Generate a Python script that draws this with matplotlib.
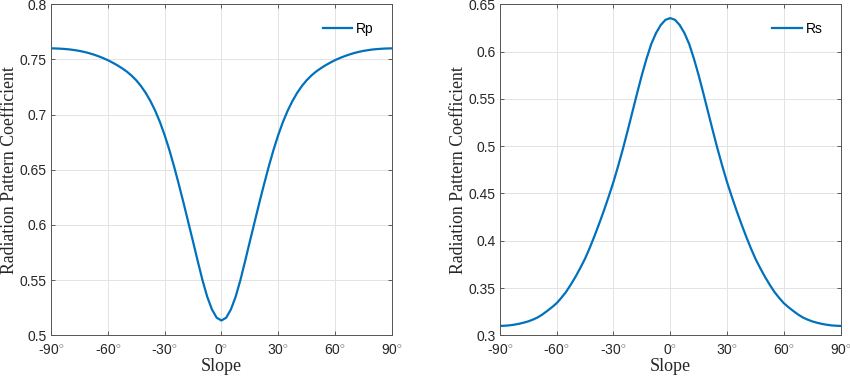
import numpy as np
import matplotlib
matplotlib.use("Agg")
import matplotlib.pyplot as plt

# slope angles (deg), every 2.5 degrees from -90 to 90
slope = [-90.0, -87.5, -85.0, -82.5, -80.0, -77.5, -75.0, -72.5, -70.0,
         -67.5, -65.0, -62.5, -60.0, -57.5, -55.0, -52.5, -50.0, -47.5,
         -45.0, -42.5, -40.0, -37.5, -35.0, -32.5, -30.0, -27.5, -25.0,
         -22.5, -20.0, -17.5, -15.0, -12.5, -10.0, -7.5, -5.0, -2.5,
         0.0,
         2.5, 5.0, 7.5, 10.0, 12.5, 15.0, 17.5, 20.0, 22.5,
         25.0, 27.5, 30.0, 32.5, 35.0, 37.5, 40.0, 42.5, 45.0,
         47.5, 50.0, 52.5, 55.0, 57.5, 60.0, 62.5, 65.0, 67.5,
         70.0, 72.5, 75.0, 77.5, 80.0, 82.5, 85.0, 87.5, 90.0]

# values
rp = [0.7600, 0.7599, 0.7597, 0.7594, 0.7590, 0.7584, 0.7577, 0.7568, 0.7557,
      0.7544, 0.7529, 0.7512, 0.7493, 0.7471, 0.7447, 0.7420, 0.7390, 0.7354,
      0.7311, 0.7259, 0.7197, 0.7123, 0.7036, 0.6934, 0.6815, 0.6680, 0.6530,
      0.6368, 0.6200, 0.6025, 0.5850, 0.5672, 0.5500, 0.5350, 0.5235, 0.5160,
      0.5135,
      0.5160, 0.5235, 0.5350, 0.5500, 0.5672, 0.5850, 0.6025, 0.6200, 0.6368,
      0.6530, 0.6680, 0.6815, 0.6934, 0.7036, 0.7123, 0.7197, 0.7259, 0.7311,
      0.7354, 0.7390, 0.7420, 0.7447, 0.7471, 0.7493, 0.7512, 0.7529, 0.7544,
      0.7557, 0.7568, 0.7577, 0.7584, 0.7590, 0.7594, 0.7597, 0.7599, 0.7600]

rs = [0.3100, 0.3102, 0.3106, 0.3113, 0.3122, 0.3134, 0.3148, 0.3167, 0.3190,
      0.3221, 0.3258, 0.3297, 0.3340, 0.3397, 0.3460, 0.3537, 0.3620, 0.3712,
      0.3810, 0.3925, 0.4050, 0.4182, 0.4320, 0.4467, 0.4620, 0.4790, 0.4970,
      0.5162, 0.5360, 0.5558, 0.5750, 0.5925, 0.6080, 0.6195, 0.6280, 0.6335,
      0.6353,
      0.6335, 0.6280, 0.6195, 0.6080, 0.5925, 0.5750, 0.5558, 0.5360, 0.5162,
      0.4970, 0.4790, 0.4620, 0.4467, 0.4320, 0.4182, 0.4050, 0.3925, 0.3810,
      0.3712, 0.3620, 0.3537, 0.3460, 0.3397, 0.3340, 0.3297, 0.3258, 0.3221,
      0.3190, 0.3167, 0.3148, 0.3134, 0.3122, 0.3113, 0.3106, 0.3102, 0.3100]

xticks = [-90, -60, -30, 0, 30, 60, 90]
xticklabels = ['-90$^{\\circ}$', '-60$^{\\circ}$', '-30$^{\\circ}$', '0$^{\\circ}$',
               '30$^{\\circ}$', '60$^{\\circ}$', '90$^{\\circ}$']
rp_yticks = [0.5, 0.55, 0.6, 0.65, 0.7, 0.75, 0.8]
rp_yticklabels = ['0.5', '0.55', '0.6', '0.65', '0.7', '0.75', '0.8']
rs_yticks = [0.3, 0.35, 0.4, 0.45, 0.5, 0.55, 0.6, 0.65]
rs_yticklabels = ['0.3', '0.35', '0.4', '0.45', '0.5', '0.55', '0.6', '0.65']

plt.rcParams['font.family'] = ['Liberation Sans', 'DejaVu Sans']
plt.rcParams['mathtext.fontset'] = 'custom'
plt.rcParams['mathtext.rm'] = 'Liberation Sans'
plt.rcParams['mathtext.it'] = 'Liberation Sans'

fig = plt.figure(figsize=(8.5, 3.82), dpi=100)
ax1 = fig.add_axes([0.060, 0.122, 0.401, 0.867])
ax2 = fig.add_axes([0.588, 0.122, 0.401, 0.867])

panels = [(ax1, rp, 'Rp', rp_yticks, rp_yticklabels),
          (ax2, rs, 'Rs', rs_yticks, rs_yticklabels)]

for ax, vals, name, yt, ytl in panels:
    ax.plot(slope, vals, color='#0072BD', lw=1.6, label=name)
    ax.set_xlim(-90, 90)
    ax.set_ylim(yt[0], yt[-1])
    ax.set_xticks(xticks)
    ax.set_xticklabels(xticklabels)
    ax.set_yticks(yt)
    ax.set_yticklabels(ytl)
    ax.grid(True, color='#e3e3e3', lw=0.7)
    ax.set_axisbelow(True)
    ax.tick_params(direction='in', top=True, right=True, length=3,
                   width=0.6, color='#444444', labelsize=10,
                   labelcolor='#262626')
    ax.tick_params(axis='x', pad=6)
    ax.tick_params(axis='y', pad=3)
    for sp in ax.spines.values():
        sp.set_color('#555555')
        sp.set_linewidth(0.7)
    ax.set_xlabel('Slope', family='Liberation Serif', fontsize=13,
                  color='#262626', labelpad=0)
    ax.set_ylabel('Radiation Pattern Coefficient', family='Liberation Serif',
                  fontsize=12.8, color='#262626', labelpad=1)
    ax.legend(loc='upper right', frameon=False, fontsize=10,
              handlelength=2.1, handletextpad=0.3, borderaxespad=0.9)

fig.savefig('out.png', dpi=100)
